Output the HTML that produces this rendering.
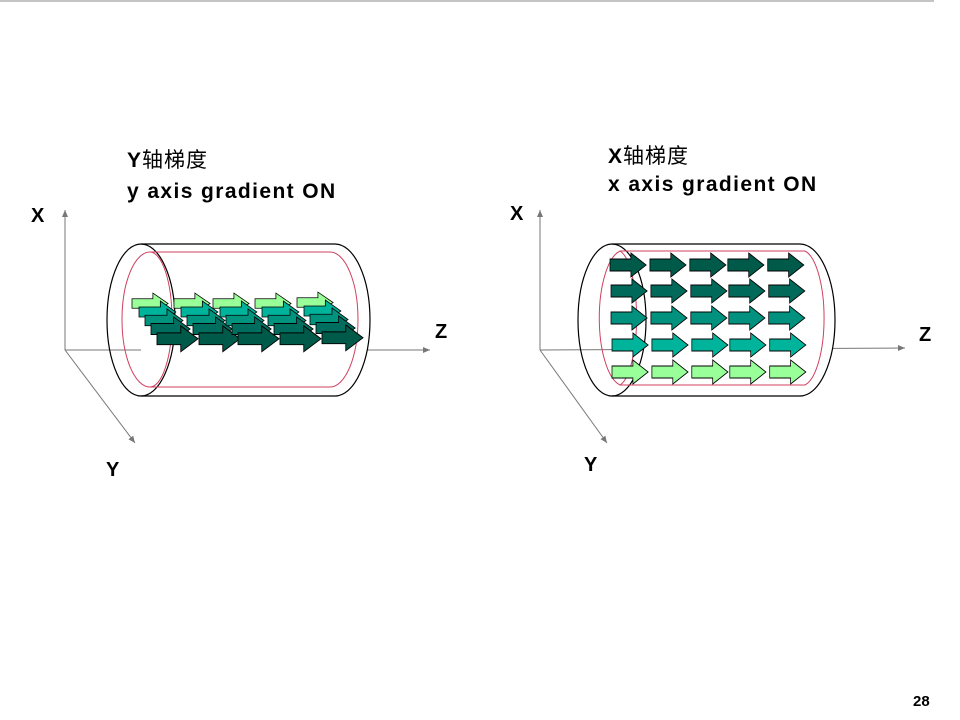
<!DOCTYPE html>
<html><head><meta charset="utf-8"><style>
html,body{margin:0;padding:0;background:#fff}
svg{display:block}
text{font-family:"Liberation Sans","Noto Sans CJK SC",sans-serif;font-weight:bold;fill:#000}
.n{font-weight:normal}
</style></head><body>
<svg width="960" height="720" viewBox="0 0 960 720" xmlns="http://www.w3.org/2000/svg">
<defs>
<path id="a" d="M0,5 H22 V0 L38,10 L22,20 V15 H0 Z" stroke="#000" stroke-width="0.8"/>
<path id="b" d="M0,5 H22 V-1 L38,10 L22,21 V15 H0 Z" stroke="#000" stroke-width="0.8"/>
<marker id="m" markerWidth="8" markerHeight="8" refX="7" refY="4" orient="auto" markerUnits="userSpaceOnUse"><path d="M0,1 L7,4 L0,7 Z" fill="#777"/></marker>
</defs>
<line x1="0" y1="1" x2="934" y2="1" stroke="#888" stroke-width="1"/>

<text x="127" y="167" font-size="21" letter-spacing="1">Y<tspan class="n">轴梯度</tspan></text>
<text x="127" y="198" font-size="21" letter-spacing="1.4">y axis gradient ON</text>
<text x="608" y="163" font-size="21" letter-spacing="1">X<tspan class="n">轴梯度</tspan></text>
<text x="608" y="191" font-size="21" letter-spacing="1.4">x axis gradient ON</text>

<g stroke="#777" stroke-width="1" fill="none">
<line x1="65" y1="350" x2="65" y2="210" marker-end="url(#m)"/>
<line x1="65" y1="350" x2="430" y2="350" marker-end="url(#m)"/>
<line x1="65" y1="350" x2="135" y2="443" marker-end="url(#m)"/>
<line x1="540" y1="350" x2="540" y2="210" marker-end="url(#m)"/>
<line x1="540" y1="350" x2="905" y2="348" marker-end="url(#m)"/>
<line x1="540" y1="350" x2="607" y2="443" marker-end="url(#m)"/>
</g>
<text x="31" y="222" font-size="20">X</text>
<text x="435" y="338" font-size="20">Z</text>
<text x="106" y="476" font-size="20">Y</text>
<text x="510" y="220" font-size="20">X</text>
<text x="919" y="341" font-size="20">Z</text>
<text x="584" y="471" font-size="20">Y</text>

<path d="M141,244 H335 A35,76 0 0 1 335,396 H141" fill="#fff" stroke="#000" stroke-width="1.2"/>
<ellipse cx="141" cy="320" rx="34" ry="76" fill="none" stroke="#000" stroke-width="1.2"/>
<path d="M150,252 H330 A28,67.5 0 0 1 330,387 H150 A28,67.5 0 0 1 150,252 Z" fill="none" stroke="#d04060" stroke-width="1"/>
<path d="M150,252 A22,67.5 0 0 1 150,387" fill="none" stroke="#d04060" stroke-width="1"/>

<g id="col">
<g transform="translate(132,294)">
<use href="#b" fill="#99ff99" transform="scale(0.95,0.95)"/>
<use href="#b" fill="#00b39b" transform="translate(7,8) scale(0.97,1)"/>
<use href="#b" fill="#00947f" transform="translate(13,16) scale(1,1.05)"/>
<use href="#b" fill="#006e5e" transform="translate(19,24) scale(1.03,1.1)"/>
<use href="#b" fill="#005a4a" transform="translate(25,33) scale(1.08,1.18)"/>
</g>
</g>
<use href="#col" x="42"/>
<use href="#col" x="81"/>
<use href="#col" x="123"/>
<use href="#col" x="165" y="-1"/>

<path d="M612,244 H800 A35,76 0 0 1 800,396 H612" fill="#fff" stroke="#000" stroke-width="1.2"/>
<ellipse cx="612" cy="320" rx="34" ry="76" fill="none" stroke="#000" stroke-width="1.2"/>
<path d="M620,251 H805 A23,68 0 0 1 805,385 H620 A25,68 0 0 1 620,251 Z" fill="none" stroke="#d04060" stroke-width="1"/>
<path d="M620,251 A20,68 0 0 1 620,385" fill="none" stroke="#d04060" stroke-width="1"/>

<g transform="translate(610,253) scale(0.95,1.2)">
<g fill="#005a4a"><use href="#a" x="0"/><use href="#a" x="42"/><use href="#a" x="84"/><use href="#a" x="124"/><use href="#a" x="166"/></g>
</g>
<g transform="translate(611,279) scale(0.95,1.2)">
<g fill="#00695a"><use href="#a" x="0"/><use href="#a" x="42"/><use href="#a" x="84"/><use href="#a" x="124"/><use href="#a" x="166"/></g>
</g>
<g transform="translate(611,306) scale(0.95,1.2)">
<g fill="#00927e"><use href="#a" x="0"/><use href="#a" x="42"/><use href="#a" x="84"/><use href="#a" x="124"/><use href="#a" x="166"/></g>
</g>
<g transform="translate(612,333) scale(0.95,1.2)">
<g fill="#00b39b"><use href="#a" x="0"/><use href="#a" x="42"/><use href="#a" x="84"/><use href="#a" x="124"/><use href="#a" x="166"/></g>
</g>
<g transform="translate(612,360) scale(0.95,1.2)">
<g fill="#99ff99"><use href="#a" x="0"/><use href="#a" x="42"/><use href="#a" x="84"/><use href="#a" x="124"/><use href="#a" x="166"/></g>
</g>

<text x="913" y="706" font-size="15">28</text>
</svg>
</body></html>
